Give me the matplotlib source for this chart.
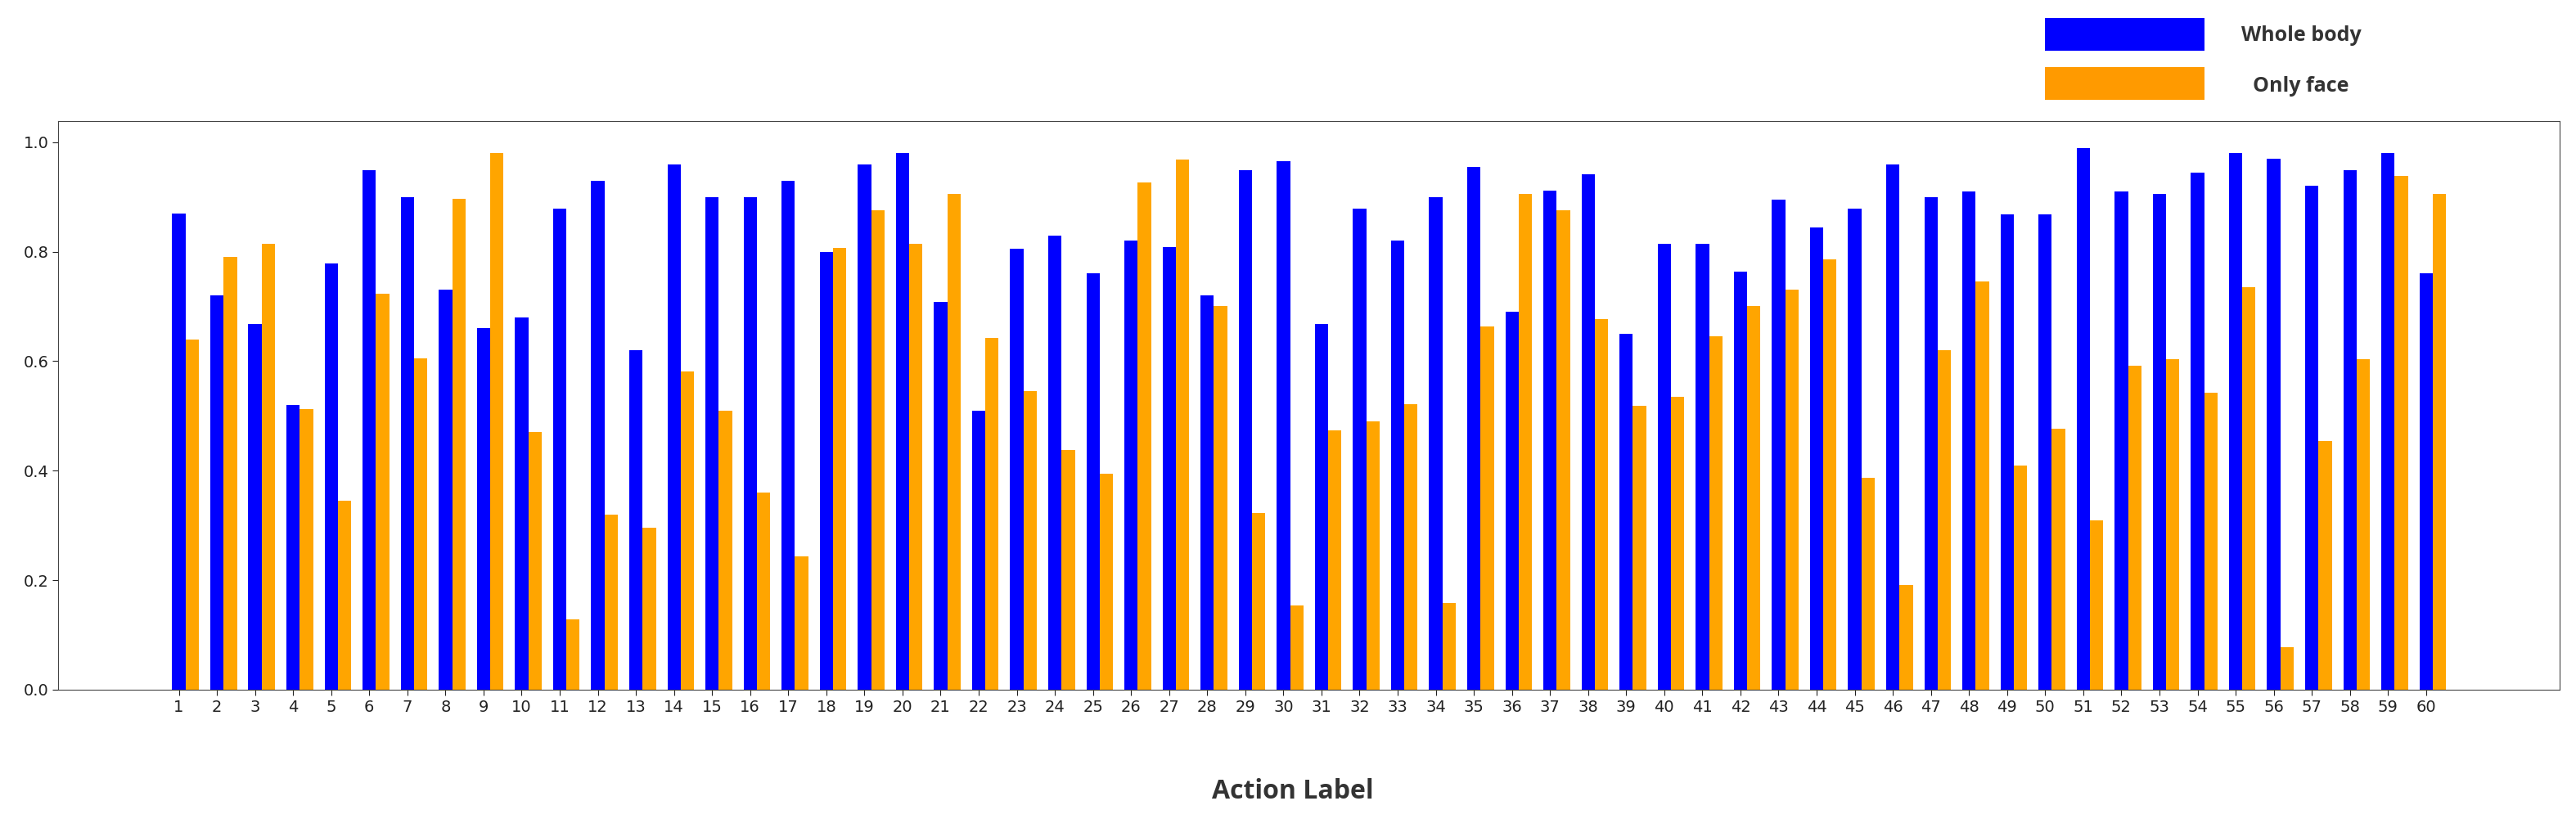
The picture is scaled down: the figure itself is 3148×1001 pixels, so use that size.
import matplotlib
matplotlib.use('Agg')
import matplotlib.pyplot as plt
from matplotlib.patches import Rectangle
from matplotlib import font_manager
import numpy as np

# === Data ===
labels = [str(i) for i in range(1, 61)]
whole_body = [0.87, 0.72, 0.668, 0.52, 0.779, 0.949, 0.90, 0.73, 0.661, 0.68,
              0.879, 0.929, 0.62, 0.96, 0.90, 0.90, 0.929, 0.80, 0.96, 0.98,
              0.709, 0.51, 0.805, 0.83, 0.761, 0.82, 0.809, 0.72, 0.949, 0.965,
              0.668, 0.879, 0.82, 0.90, 0.955, 0.69, 0.911, 0.941, 0.65, 0.814,
              0.814, 0.764, 0.895, 0.845, 0.879, 0.96, 0.90, 0.91, 0.869, 0.869,
              0.989, 0.91, 0.905, 0.944, 0.98, 0.97, 0.92, 0.949, 0.98, 0.761]
only_face = [0.64, 0.791, 0.814, 0.512, 0.345, 0.723, 0.605, 0.897, 0.98, 0.47,
             0.129, 0.319, 0.296, 0.581, 0.51, 0.36, 0.243, 0.807, 0.875, 0.814,
             0.905, 0.642, 0.546, 0.438, 0.394, 0.927, 0.968, 0.701, 0.3225, 0.154,
             0.474, 0.49, 0.522, 0.158, 0.663, 0.905, 0.876, 0.677, 0.518, 0.535,
             0.646, 0.701, 0.731, 0.786, 0.387, 0.191, 0.62, 0.746, 0.409, 0.477,
             0.309, 0.591, 0.603, 0.543, 0.735, 0.077, 0.454, 0.604, 0.938, 0.905]
series_names = ["Whole body", "Only face"]

BAR_W = 0.35

# pick a family that really has a bold face
bold_family = 'DejaVu Sans'
for fam in ['Open Sans', 'Noto Sans CJK SC', 'Lato', 'Roboto']:
    try:
        path = font_manager.findfont(font_manager.FontProperties(family=fam, weight='bold'),
                                     fallback_to_default=False)
        if 'bold' in path.lower() or 'cjk' in path.lower() or 'variable' in path.lower() or '[' in path:
            bold_family = fam
            break
    except Exception:
        pass

fig = plt.figure(figsize=(31.48, 10.01), dpi=100)
ax = fig.add_axes([0.0227, 0.158, 0.971, 0.694])

x = np.arange(1, len(labels) + 1)
ax.bar(x, whole_body, BAR_W, color='blue', label=series_names[0])
ax.bar(x + BAR_W, only_face, BAR_W, color='orange', label=series_names[1])

ax.set_xticks(x)
ax.set_xticklabels(labels)
ax.tick_params(axis='both', labelsize=14, length=5, colors='#222222')
for s in ax.spines.values():
    s.set_color('#444444')

# x label placed as figure text
fig.text(0.502, 0.033, "Action Label", ha='center', va='center',
         fontsize=23, fontweight='bold', color='#333333', family=bold_family)

# hand-drawn legend at the top right
legend_colors = ['#0000ff', '#ff9a00']
patch_y = [1 - 62 / 1001, 1 - 122 / 1001]
text_y = [1 - 44 / 1001, 1 - 105 / 1001]
for name, col, py, ty in zip(series_names, legend_colors, patch_y, text_y):
    fig.add_artist(Rectangle((2499 / 3148, py), 195 / 3148, 40 / 1001,
                             transform=fig.transFigure, color=col, lw=0))
    fig.text(2812 / 3148, ty, name, ha='center', va='center', fontsize=18,
             fontweight='bold', color='#333333', family=bold_family)

fig.savefig('out.png', dpi=100)
